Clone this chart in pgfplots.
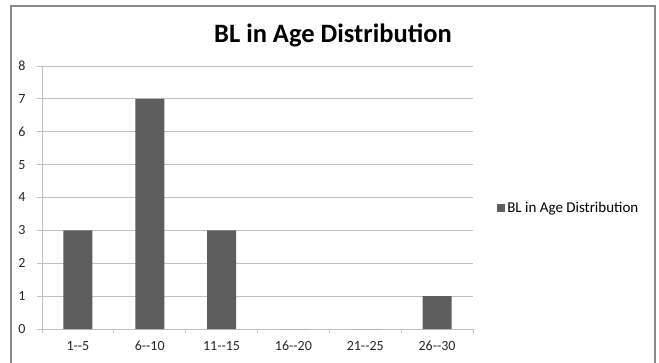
\documentclass[border=0pt]{standalone}
\usepackage{fontspec}
\setmainfont{Carlito}
\usepackage{pgfplots}
\pgfplotsset{compat=1.18}
\definecolor{barfill}{HTML}{5E5E5E}
\definecolor{gridc}{HTML}{C0C0C0}
\definecolor{framec}{HTML}{8A8A8A}
\begin{document}
\begin{tikzpicture}
\useasboundingbox (0,0) rectangle (659bp,363bp);
% chart frame
\draw[framec, line width=1.3bp] (11bp,-2bp) -- (11bp,357bp) -- (655bp,357bp) -- (655bp,-2bp);
\begin{axis}[
  at={(42bp,34bp)}, anchor=south west,
  scale only axis, width=431bp, height=263bp,
  xmin=-0.5, xmax=5.5, ymin=0, ymax=8,
  ytick={0,1,...,8},
  xtick={0,1,...,5},
  xticklabels={1-{}-5,6-{}-10,11-{}-15,16-{}-20,21-{}-25,26-{}-30},
  minor xtick={-0.5,0.5,...,5.5},
  major x tick style={draw=none},
  minor x tick style={draw=gridc, line width=0.8bp},
  minor tick length=4bp,
  major tick length=5bp,
  tick align=outside,
  axis x line*=bottom, axis y line*=left,
  axis line style={draw=gridc, line width=0.8bp, -},
  y tick style={draw=gridc, line width=0.8bp},
  ymajorgrids, grid style={draw=gridc, line width=0.8bp},
  ticklabel style={font=\fontsize{14bp}{16bp}\selectfont, text=black!85},
  /pgf/number format/assume math mode=true,
  xticklabel style={yshift=-4bp},
  yticklabel style={anchor=east, xshift=-8bp},
  title={BL in Age Distribution},
  title style={at={(0.675,1.066)}, anchor=base, font=\fontsize{26.5bp}{30bp}\selectfont\bfseries},
  legend style={at={(1.056,0.46)}, anchor=west, draw=none, fill=none,
    font=\fontsize{15bp}{17bp}\selectfont, inner sep=0pt},
  legend image code/.code={\fill[barfill] (0bp,-4bp) rectangle (8bp,4bp);},
  clip=false,
]
\addplot[ybar, bar width=29bp, fill=barfill, draw=none] coordinates {
  (0,3) (1,7) (2,3) (3,0) (4,0) (5,1)
};
\addlegendentry{BL in Age Distribution}
\end{axis}
\end{tikzpicture}
\end{document}
